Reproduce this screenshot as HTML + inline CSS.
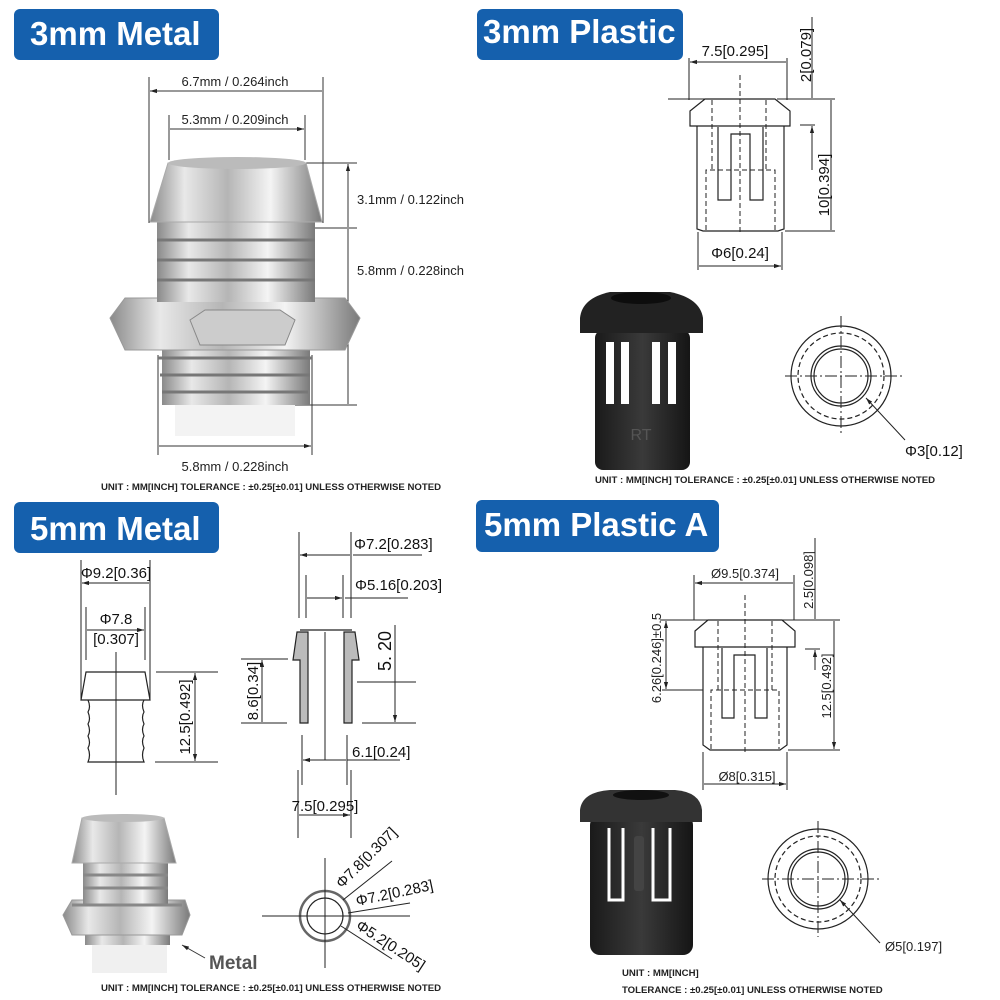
<!DOCTYPE html>
<html><head><meta charset="utf-8"><style>
html,body{margin:0;padding:0;background:#fff}
svg{display:block}
text{font-family:"Liberation Sans",sans-serif}
.t{font-size:13px;fill:#222}
.d{font-size:15px;fill:#111}
.f{font-size:9.6px;font-weight:bold;fill:#222}
.h{font-size:33px;font-weight:bold;fill:#fff}
</style></head><body>
<svg width="1000" height="1000" viewBox="0 0 1000 1000" xmlns="http://www.w3.org/2000/svg">
<defs>
<linearGradient id="m" x1="0" x2="1" y1="0" y2="0">
<stop offset="0" stop-color="#8a8a8a"/><stop offset=".2" stop-color="#e8e8e8"/><stop offset=".45" stop-color="#b5b5b5"/><stop offset=".7" stop-color="#f4f4f4"/><stop offset="1" stop-color="#7a7a7a"/></linearGradient>
<linearGradient id="k" x1="0" x2="1"><stop offset="0" stop-color="#1a1a1a"/><stop offset=".5" stop-color="#3a3a3a"/><stop offset="1" stop-color="#151515"/></linearGradient>
<marker id="a" viewBox="0 0 10 10" refX="10" refY="5" markerWidth="7" markerHeight="7" orient="auto-start-reverse"><path d="M0,2 L10,5 L0,8z" fill="#222"/></marker>
</defs>
<rect x="14" y="9" width="205" height="51" rx="6" fill="#1560ad"/><text x="30" y="45" class="h">3mm Metal</text>
<rect x="477" y="9" width="206" height="51" rx="6" fill="#1560ad"/><text x="483" y="43" class="h">3mm Plastic</text>
<rect x="14" y="502" width="205" height="51" rx="6" fill="#1560ad"/><text x="30" y="540" class="h">5mm Metal</text>
<rect x="476" y="500" width="243" height="52" rx="6" fill="#1560ad"/><text x="484" y="536" class="h">5mm Plastic A</text>

<g stroke="#333" stroke-width="1" fill="none">
<path d="M149 77V223M323 77V223M169 115V160M305 115V160"/>
<path d="M150 91H322M170 129H304" marker-start="url(#a)" marker-end="url(#a)"/>
<path d="M305 163H357M315 228H357M292 405H357M158 355V455M312 355V455"/>
<path d="M348 164V227M348 229V404M159 446H311" marker-start="url(#a)" marker-end="url(#a)"/>
</g>
<rect x="175" y="400" width="120" height="36" fill="#f3f3f3"/>
<rect x="162" y="345" width="148" height="60" fill="url(#m)"/>
<path d="M158 358H312M160 375H310M162 392H308" stroke="#777" stroke-width="3"/>
<polygon points="110,318 125,298 345,298 360,318 345,350 125,350" fill="url(#m)" stroke="#999"/>
<polygon points="190,320 205,310 280,310 295,320 285,345 200,345" fill="#ccc" stroke="#888"/>
<rect x="157" y="222" width="158" height="80" fill="url(#m)"/>
<path d="M157 240H315M157 260H315M157 280H315" stroke="#777" stroke-width="3"/>
<path d="M168 163 L306 163 L322 222 L150 222z" fill="url(#m)" stroke="#aaa"/>
<ellipse cx="237" cy="163" rx="69" ry="6" fill="#bbb"/>
<text x="235" y="86" class="t" text-anchor="middle">6.7mm / 0.264inch</text>
<text x="235" y="124" class="t" text-anchor="middle">5.3mm / 0.209inch</text>
<text x="357" y="204" class="t">3.1mm / 0.122inch</text>
<text x="357" y="275" class="t">5.8mm / 0.228inch</text>
<text x="235" y="471" class="t" text-anchor="middle">5.8mm / 0.228inch</text>
<text x="271" y="490" class="f" text-anchor="middle">UNIT : MM[INCH]    TOLERANCE : ±0.25[±0.01]  UNLESS OTHERWISE NOTED</text>

<g stroke="#222" stroke-width="1.2" fill="none">
<path d="M690 111 L705 99 H775 L790 111 V126 H690z"/>
<path d="M697 126 V229 L703 231 H778 L784 229 V126"/>
<path d="M718 127 V200 H731 V134 H750 V200 H763 V127"/>
<path d="M712 100V170M766 100V170M706 230V170H775V230M740 75V232" stroke-dasharray="5,3" stroke-width="1"/>
<path d="M689 58V100M787 58V100M668 99H705M777 99H835M800 125H815M785 231H835M698 232V270M782 232V270" stroke-width="1"/>
<path d="M690 62H786M812 17V98M831 100V230M699 266H781" stroke-width="1" marker-end="url(#a)"/>
<path d="M812 170V126" stroke-width="1" marker-end="url(#a)"/>
<path d="M690 62H700M699 266H709" stroke-width="1" marker-start="url(#a)"/>
</g>
<text x="735" y="56" class="d" text-anchor="middle">7.5[0.295]</text>
<text transform="translate(811,55) rotate(-90)" class="d" text-anchor="middle">2[0.079]</text>
<text transform="translate(829,185) rotate(-90)" class="d" text-anchor="middle">10[0.394]</text>
<text x="740" y="258" class="d" text-anchor="middle">Φ6[0.24]</text>
<rect x="595" y="330" width="95" height="140" rx="8" fill="url(#k)"/>
<path d="M580 318 Q582 298 610 292 H670 Q700 298 703 318 V333 H580z" fill="#222"/>
<ellipse cx="641" cy="298" rx="30" ry="6" fill="#0d0d0d"/>
<rect x="606" y="342" width="8" height="62" fill="#fff"/><rect x="621" y="342" width="8" height="62" fill="#fff"/><rect x="652" y="342" width="8" height="62" fill="#fff"/><rect x="668" y="342" width="8" height="62" fill="#fff"/>
<text x="641" y="440" font-size="16" fill="#555" text-anchor="middle">RT</text>
<g fill="none" stroke="#222" stroke-width="1.2">
<circle cx="841" cy="376" r="50"/><circle cx="841" cy="376" r="43" stroke-dasharray="5,3"/><circle cx="841" cy="376" r="30"/><circle cx="841" cy="376" r="27"/>
<path d="M785 376H903M841 316V434" stroke-dasharray="12,3,2,3" stroke-width="1"/>
<path d="M905 440L866 398" stroke-width="1" marker-end="url(#a)"/>
</g>
<text x="905" y="456" class="d">Φ3[0.12]</text>
<text x="765" y="483" class="f" text-anchor="middle">UNIT : MM[INCH]    TOLERANCE : ±0.25[±0.01]  UNLESS OTHERWISE NOTED</text>

<g stroke="#222" stroke-width="1.2" fill="none">
<path d="M81 560V700M150 560V700M86 607V660M145 607V660" stroke-width="1"/>
<path d="M82 583H149M87 630H144" stroke-width="1" marker-start="url(#a)" marker-end="url(#a)"/>
<path d="M116 652V795" stroke-width="1"/>
<path d="M86 672H145L150 700H81z"/>
<path d="M88 700 q3 7 0 12 q3 7 0 12 q3 7 0 12 q3 7 0 12 q3 7 0 14 H144 q-3 -7 0 -14 q-3 -7 0 -12 q-3 -7 0 -12 q-3 -7 0 -12 q-3 -7 0 -12"/>
<path d="M156 672H218M155 762H218" stroke-width="1"/>
<path d="M195 673V761" stroke-width="1" marker-start="url(#a)" marker-end="url(#a)"/>
<path d="M299 532V618M351 532V618M306 575V618M343 575V618" stroke-width="1"/>
<path d="M300 555H350M307 598H342" stroke-width="1" marker-start="url(#a)" marker-end="url(#a)"/>
<path d="M353 555H422M345 598H408" stroke-width="1"/>
<path d="M300 630H352M297 632 L293 660 L300 660 V723 H308 V632z M355 632 L359 660 L352 660 V723 H344 V632z" fill="#bbb"/>
<path d="M325 632V760" stroke-width="1"/>
<path d="M241 659H288M241 723H287M357 682H416M362 723H416" stroke-width="1"/>
<path d="M262 660V722M395 683V722" stroke-width="1" marker-start="url(#a)" marker-end="url(#a)"/>
<path d="M395 625V683" stroke-width="1"/>
<path d="M302 735V785M347 735V785M298 770V838M351 770V838" stroke-width="1"/>
<path d="M303 760H346M299 815H350" stroke-width="1" marker-start="url(#a)" marker-end="url(#a)"/>
<path d="M347 760H400" stroke-width="1"/>
<circle cx="325" cy="916" r="25" stroke-width="2.5" stroke="#666"/><circle cx="325" cy="916" r="18"/>
<path d="M262 916H410M325 858V968" stroke-width="1"/>
<path d="M392 861L343 900M410 903L348 913M392 959L341 926" stroke-width="1"/>
</g>
<text x="116" y="578" class="d" text-anchor="middle">Φ9.2[0.36]</text>
<text x="116" y="624" class="d" text-anchor="middle">Φ7.8</text>
<text x="116" y="644" class="d" text-anchor="middle">[0.307]</text>
<text transform="translate(190,717) rotate(-90)" class="d" text-anchor="middle">12.5[0.492]</text>
<text x="354" y="549" class="d">Φ7.2[0.283]</text>
<text x="355" y="590" class="d">Φ5.16[0.203]</text>
<text transform="translate(258,691) rotate(-90)" class="d" text-anchor="middle">8.6[0.34]</text>
<text transform="translate(391,651) rotate(-90)" font-size="18" fill="#111" text-anchor="middle">5. 20</text>
<text x="352" y="757" class="d">6.1[0.24]</text>
<text x="325" y="811" class="d" text-anchor="middle">7.5[0.295]</text>
<text transform="translate(342,889) rotate(-45)" class="d">Φ7.8[0.307]</text>
<text transform="translate(357,906) rotate(-12)" class="d">Φ7.2[0.283]</text>
<text transform="translate(355,928) rotate(33)" class="d">Φ5.2[0.205]</text>
<rect x="92" y="935" width="75" height="38" fill="#f0f0f0"/>
<rect x="85" y="905" width="85" height="40" fill="url(#m)"/>
<polygon points="63,915 72,900 185,900 190,915 182,935 72,935" fill="url(#m)" stroke="#999"/>
<rect x="83" y="863" width="85" height="42" fill="url(#m)"/>
<path d="M83 875H168M83 888H168M72 905H182" stroke="#888" stroke-width="3"/>
<path d="M82 818 H164 L176 863 H72z" fill="url(#m)" stroke="#aaa"/>
<ellipse cx="123" cy="818" rx="41" ry="4" fill="#bbb"/>
<path d="M205 958L182 945" stroke="#333" stroke-width="1" marker-end="url(#a)"/>
<text x="209" y="969" font-size="19" font-weight="bold" fill="#555">Metal</text>
<text x="271" y="991" class="f" text-anchor="middle">UNIT : MM[INCH]    TOLERANCE : ±0.25[±0.01]  UNLESS OTHERWISE NOTED</text>

<g stroke="#222" stroke-width="1.2" fill="none">
<path d="M695 631 L708 620 H782 L795 631 V647 H695z"/>
<path d="M703 647 V745 L710 750 H780 L787 745 V647"/>
<path d="M722 648 V718 H734 V655 H755 V718 H767 V648"/>
<path d="M718 621V690M772 621V690M711 749V690H779V749M745 595V752" stroke-dasharray="5,3" stroke-width="1"/>
<path d="M694 575V620M794 575V620M660 620H708M782 620H840M662 690H703M805 649H820M788 750H840M703 752V790M787 752V790" stroke-width="1"/>
<path d="M695 583H793M704 784H786" stroke-width="1" marker-start="url(#a)" marker-end="url(#a)"/>
<path d="M815 538V619M834 621V749" stroke-width="1" marker-end="url(#a)"/>
<path d="M666 621V689" stroke-width="1" marker-start="url(#a)" marker-end="url(#a)"/>
<path d="M815 670V650" stroke-width="1" marker-end="url(#a)"/>
</g>
<text x="745" y="578" class="t" font-size="13.5" text-anchor="middle">Ø9.5[0.374]</text>
<text transform="translate(813,580) rotate(-90)" class="t" font-size="13.5" text-anchor="middle">2.5[0.098]</text>
<text transform="translate(831,686) rotate(-90)" class="t" font-size="13.5" text-anchor="middle">12.5[0.492]</text>
<text transform="translate(661,658) rotate(-90)" class="t" font-size="13.5" text-anchor="middle">6.26[0.246]±0.5</text>
<text x="747" y="781" class="t" font-size="13.5" text-anchor="middle">Ø8[0.315]</text>
<rect x="590" y="815" width="103" height="140" rx="10" fill="url(#k)"/>
<path d="M580 810 Q582 792 610 790 H675 Q700 792 702 810 V822 H580z" fill="#333"/>
<ellipse cx="641" cy="795" rx="28" ry="5" fill="#111"/>
<path d="M609 828V900H623V828M653 828V900H670V828" stroke="#fff" stroke-width="3" fill="none"/>
<rect x="634" y="836" width="10" height="55" rx="3" fill="#444"/>
<g fill="none" stroke="#222" stroke-width="1.2">
<circle cx="818" cy="879" r="50"/><circle cx="818" cy="879" r="43" stroke-dasharray="5,3"/><circle cx="818" cy="879" r="30"/><circle cx="818" cy="879" r="27"/>
<path d="M762 879H880M818 821V937" stroke-dasharray="12,3,2,3" stroke-width="1"/>
<path d="M880 943L840 900" stroke-width="1" marker-end="url(#a)"/>
</g>
<text x="885" y="951" class="t" font-size="13.5">Ø5[0.197]</text>
<text x="622" y="976" class="f">UNIT : MM[INCH]</text>
<text x="622" y="993" class="f">TOLERANCE : ±0.25[±0.01]  UNLESS OTHERWISE NOTED</text>
</svg>
</body></html>
